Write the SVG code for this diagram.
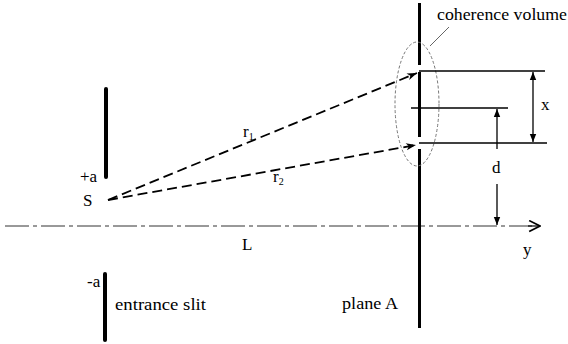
<svg xmlns="http://www.w3.org/2000/svg" width="568" height="344" viewBox="0 0 568 344">
<defs>
<marker id="ah" viewBox="0 0 10 10" refX="10" refY="5" markerWidth="8" markerHeight="8" markerUnits="userSpaceOnUse" orient="auto-start-reverse">
<path d="M0,1 L10,5 L0,9 z" fill="#000"/>
</marker>
<marker id="ahd" viewBox="0 0 12 10" refX="11" refY="5" markerWidth="12" markerHeight="9" markerUnits="userSpaceOnUse" orient="auto">
<path d="M0,1 L11,5 L0,9 L3,5 z" fill="#000"/>
</marker>
<marker id="ay" viewBox="0 0 12 12" refX="11" refY="6" markerWidth="13" markerHeight="13" markerUnits="userSpaceOnUse" orient="auto">
<path d="M1,1 L11,6 L1,11" fill="none" stroke="#000" stroke-width="1.6"/>
</marker>
</defs>
<style>
text{font-family:'Liberation Serif','DejaVu Serif','Times New Roman',serif;font-size:17px;fill:#000}
.slit{stroke:#000;stroke-width:4;stroke-linecap:round;fill:none}
.plane{stroke:#000;stroke-width:3;fill:none}
.ray{stroke:#000;stroke-width:1.8;stroke-dasharray:10 5;fill:none}
.thin{stroke:#000;stroke-width:1.3;fill:none}
.axis{stroke:#333;stroke-width:1;stroke-dasharray:24 4 4 4;fill:none}
.vol{stroke:#777;stroke-width:1;stroke-dasharray:3 2;fill:none}
</style>
<g id="axis">
<line class="axis" x1="5" y1="226" x2="532" y2="226"/>
<line x1="528" y1="226" x2="540" y2="226" stroke="#000" stroke-width="1.2" marker-end="url(#ay)"/>
<text x="523" y="255" font-family="Liberation Serif, serif">y</text>
<text x="242" y="250">L</text>
</g>
<g id="entrance-slit">
<line class="slit" x1="106" y1="89" x2="106" y2="177"/>
<line class="slit" x1="105" y1="274" x2="105" y2="340"/>
<text x="80" y="182">+a</text>
<text x="87" y="287">-a</text>
<text x="115" y="310" textLength="91" lengthAdjust="spacingAndGlyphs">entrance slit</text>
</g>
<g id="source">
<text x="83" y="206">S</text>
</g>
<g id="plane-A">
<line class="plane" x1="419.5" y1="3" x2="419.5" y2="65"/>
<line class="plane" x1="419.5" y1="72" x2="419.5" y2="137"/>
<line class="plane" x1="419.5" y1="149" x2="419.5" y2="328"/>
<text x="342" y="309" textLength="56" lengthAdjust="spacingAndGlyphs">plane A</text>
</g>
<g id="coherence-volume">
<ellipse class="vol" cx="417" cy="104" rx="22" ry="62"/>
<line x1="430" y1="46" x2="449" y2="27" stroke="#555" stroke-width="0.9"/>
<text x="437" y="20" textLength="130" lengthAdjust="spacingAndGlyphs">coherence volume</text>
</g>
<g id="connectors">
<line class="ray" x1="108" y1="200" x2="417" y2="73" marker-end="url(#ahd)"/>
<line class="ray" x1="108" y1="200" x2="416" y2="145" marker-end="url(#ahd)"/>
<line class="thin" x1="419" y1="71" x2="545" y2="71"/>
<line class="thin" x1="419" y1="143" x2="547" y2="143"/>
<line class="thin" x1="411" y1="108" x2="508" y2="108"/>
<line class="thin" x1="533" y1="72" x2="533" y2="142" marker-start="url(#ah)" marker-end="url(#ah)"/>
<line class="thin" x1="497" y1="149" x2="497" y2="109" marker-end="url(#ah)"/>
<line class="thin" x1="497" y1="184" x2="497" y2="225" marker-end="url(#ah)"/>
</g>
<g id="labels">
<text x="243" y="137">r<tspan font-size="10" dy="3">1</tspan></text>
<text x="273" y="182">r<tspan font-size="10" dy="3">2</tspan></text>
<text x="541" y="110">x</text>
<text x="492" y="173">d</text>
</g>
</svg>
